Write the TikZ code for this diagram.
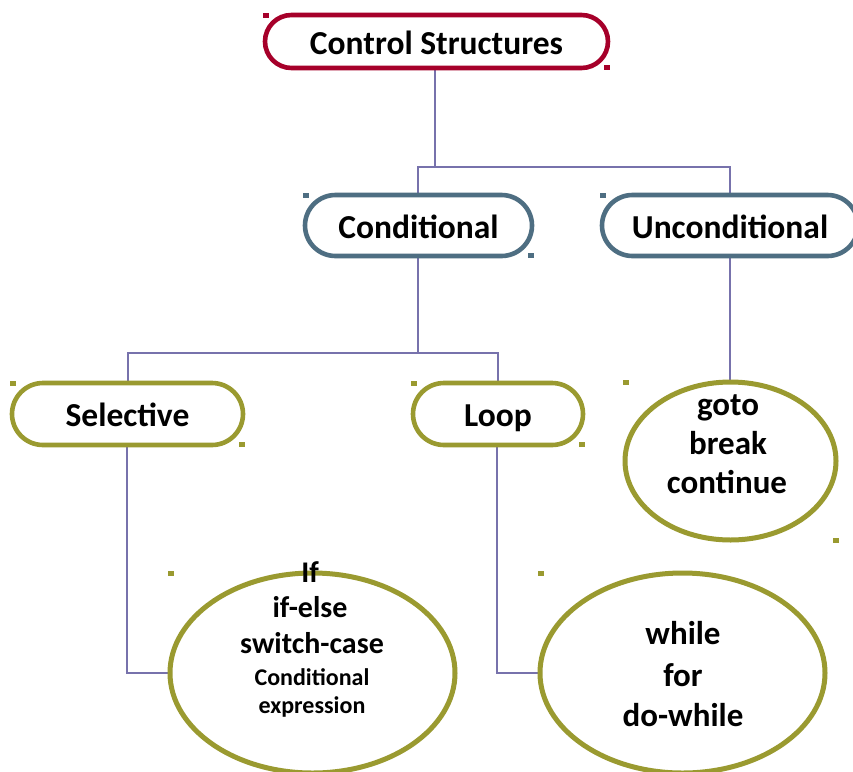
\documentclass[tikz,border=0pt]{standalone}
\usepackage{fontspec}
\setmainfont{Carlito}
\usetikzlibrary{shapes.geometric}

\definecolor{topred}{HTML}{A6002A}
\definecolor{steel}{HTML}{4E6E82}
\definecolor{olive}{HTML}{9A9A30}
\definecolor{linkc}{HTML}{7772AC}

\tikzset{
  pill/.style={draw, line width=4.6pt, rectangle, rounded corners=#1, inner sep=0pt,
    text height=25pt, text depth=0pt,
    font=\fontsize{33.5}{40}\selectfont\bfseries, fill=white},
  oval/.style={draw=olive, line width=5pt, ellipse, inner sep=0pt, fill=white},
  conn/.style={draw=linkc, line width=2pt},
  bigtxt/.style={anchor=base, inner sep=0pt, font=\fontsize{33}{40}\selectfont\bfseries},
  midtxt/.style={anchor=base, inner sep=0pt, font=\fontsize{30}{36}\selectfont\bfseries},
  smalltxt/.style={anchor=base, inner sep=0pt, font=\fontsize{24}{29}\selectfont\bfseries},
}

\begin{document}
\begin{tikzpicture}[x=1pt,y=-1pt]
  \fill[white] (0,0) rectangle (853,771);
  \useasboundingbox (0,0) rectangle (853,771);

  % junction points of the connector buses
  \coordinate (busA) at (435,167);
  \coordinate (busB) at (418,353);

  % connectors (drawn first, boxes sit on top)
  \draw[conn] (435,68) -- (busA);
  \draw[conn] (418,195) -- ++(0,-28) -| (730,195);
  \draw[conn] (418,256) -- (busB);
  \draw[conn] (127.5,383) -- ++(0,-30) -| (498,383);
  \draw[conn] (730,256) -- (730,382);
  \draw[conn] (127,445) |- (170,673);
  \draw[conn] (497,445) |- (540,673);

  % top level
  \node[pill=26.5pt, draw=topred, minimum width=343pt, minimum height=53pt]
    (cs) at (436.5,41.5) {Control Structures};

  % second level
  \node[pill=30.5pt, draw=steel, minimum width=227pt, minimum height=61pt]
    (cond) at (418.5,225.5) {Conditional};
  \node[pill=30.5pt, draw=steel, minimum width=256pt, minimum height=61pt]
    (uncond) at (730,225.5) {Unconditional};

  % third level
  \node[pill=31pt, draw=olive, minimum width=231pt, minimum height=62pt]
    (sel) at (127.5,414) {Selective};
  \node[pill=31pt, draw=olive, minimum width=170pt, minimum height=62pt]
    (loop) at (498,414) {Loop};

  % leaf ovals
  \node[oval, minimum width=211pt, minimum height=158pt] (jump) at (730.5,461) {};
  \node[oval, minimum width=285pt, minimum height=200pt] (ifel) at (312.5,673) {};
  \node[oval, minimum width=285pt, minimum height=200pt] (wh) at (682.5,673) {};

  % corner marks
  \fill[topred] (cs.north west) rectangle ++(6,5);
  \fill[topred] (cs.south east) rectangle ++(-6,-5);
  \fill[steel] (cond.north west) rectangle ++(6,5);
  \fill[steel] (cond.south east) rectangle ++(-6,-5);
  \fill[steel] (uncond.north west) rectangle ++(6,5);
  \fill[olive] (sel.north west) rectangle ++(6,5);
  \fill[olive] (sel.south east) rectangle ++(-6,-5);
  \fill[olive] (loop.north west) rectangle ++(6,5);
  \fill[olive] (loop.south east) rectangle ++(-6,-5);
  \fill[olive] (jump.west |- jump.north) rectangle ++(6,5);
  \fill[olive] (jump.east |- jump.south) rectangle ++(-6,-5);
  \fill[olive] (ifel.west |- ifel.north) rectangle ++(6,5);
  \fill[olive] (wh.west |- wh.north) rectangle ++(6,5);

  % oval texts
  \node[bigtxt] (j1) at (728,415) {goto};
  \node[bigtxt] (j2) at (728,454) {break};
  \node[bigtxt] (j3) at (727,493) {continue};

  \node[midtxt] (s1) at (310,582) {If};
  \node[midtxt] (s2) at (310,617) {if-else};
  \node[midtxt] (s3) at (312,653) {switch-case};
  \node[smalltxt] (s4) at (312,685) {Conditional};
  \node[smalltxt] (s5) at (312,713) {expression};

  \node[bigtxt] (w1) at (683,644) {while};
  \node[bigtxt] (w2) at (683,686) {for};
  \node[bigtxt] (w3) at (683,726) {do-while};
\end{tikzpicture}
\end{document}
